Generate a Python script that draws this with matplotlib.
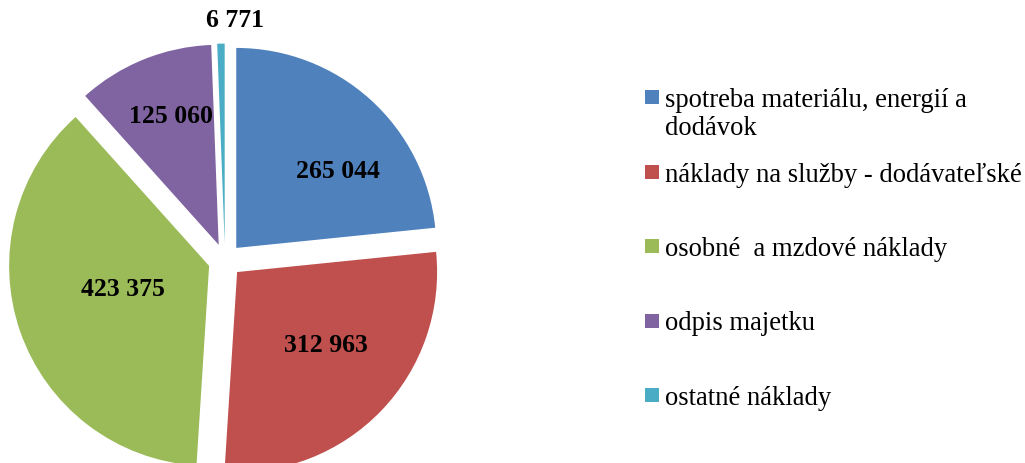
import matplotlib
matplotlib.use("Agg")
import matplotlib.pyplot as plt
from matplotlib.patches import Rectangle

categories = ["spotreba materiálu, energií a\ndodávok",
              "náklady na služby - dodávateľské",
              "osobné  a mzdové náklady",
              "odpis majetku",
              "ostatné náklady"]
values = [265044, 312963, 423375, 125060, 6771]
value_labels = ["265 044", "312 963", "423 375", "125 060", "6 771"]
colors = ["#4F81BD", "#C0504D", "#9BBB59", "#8064A2", "#4BACC6"]

# where the data labels sit (pie axes coords, radius = 1)
label_pos = [(0.565, 0.442), (0.505, -0.423), (-0.51, -0.148), (-0.27, 0.717), (0.05, 1.197)]

plt.rcParams['font.family'] = ['Liberation Serif', 'DejaVu Serif']

W, H = 1025, 463
fig = plt.figure(figsize=(W / 100, H / 100), dpi=100)

# pie: center at (225, 260) px, radius 200 px
ax = fig.add_axes([0, 0, 450 / W, 1])
ax.pie(values, colors=colors, startangle=90, counterclock=False,
       explode=[0.084] * len(values), radius=1,
       wedgeprops=dict(linewidth=0))
ax.set_xlim(-225 / 200, 225 / 200)
ax.set_ylim(-202.6 / 200, 260.4 / 200)
ax.set_aspect('auto')
ax.axis('off')
for txt, (x, y) in zip(value_labels, label_pos):
    ax.text(x, y, txt, ha='center', va='center', fontsize=18.5, fontweight='bold', color='black')

# legend drawn in pixel coords
lg = fig.add_axes([0, 0, 1, 1])
lg.set_xlim(0, W)
lg.set_ylim(H, 0)
lg.axis('off')
lg.patch.set_alpha(0)
y0, step = 97, 74.5
for i, (cat, col) in enumerate(zip(categories, colors)):
    yc = y0 + i * step
    lg.add_patch(Rectangle((645, yc - 7), 14, 14, facecolor=col, edgecolor='none'))
    for j, line in enumerate(cat.split("\n")):
        lg.text(665, yc + 10 + j * 28, line, ha='left', va='baseline', fontsize=19.2,
                color='black')

fig.savefig("out.png", dpi=100)
